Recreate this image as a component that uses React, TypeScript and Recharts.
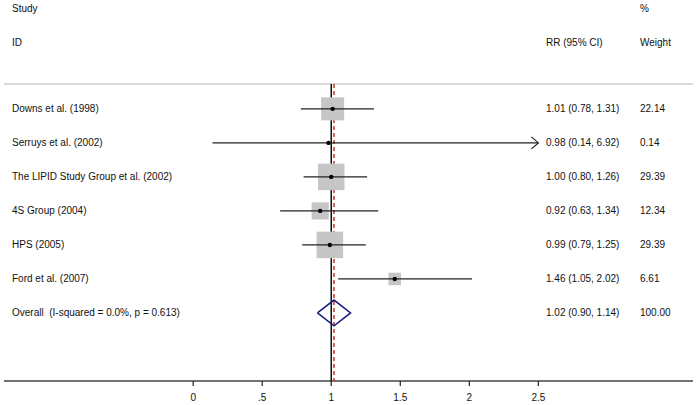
import React from "react";
import { ComposedChart, XAxis, YAxis, Scatter } from "recharts";

const studies = [
  "Downs et al. (1998)",
  "Serruys et al. (2002)",
  "The LIPID Study Group et al. (2002)",
  "4S Group (2004)",
  "HPS (2005)",
  "Ford et al. (2007)",
];
const rr = [1.01, 0.98, 1.0, 0.92, 0.99, 1.46];
const lower = [0.78, 0.14, 0.8, 0.63, 0.79, 1.05];
const upper = [1.31, 6.92, 1.26, 1.34, 1.25, 2.02];
const weights = [22.14, 0.14, 29.39, 12.34, 29.39, 6.61];

const overallLabel = "Overall\u00a0 (I-squared = 0.0%, p = 0.613)";
const overall = { rr: 1.02, lower: 0.9, upper: 1.14, weight: 100.0 };

const xTicks = [0, 0.5, 1, 1.5, 2, 2.5];
const xTickLabels = ["0", ".5", "1", "1.5", "2", "2.5"];

const X_MIN = -1.37;
const X_MAX = 3.62;
const X_CLIP = 2.5;
const Y_TOP = -3.2;
const Y_BOTTOM = 8;
const HEAD_STUDY = -2.94;
const HEAD_ID = -1.94;
const HEAD_LINE = -0.73;
const OVERALL_ROW = studies.length;

const FONT = "'Liberation Sans', Arial, sans-serif";

const fmt = (v: number) => v.toFixed(2);

const boxData = rr.map((v, i) => ({ x: v, y: i, w: weights[i] }));
const ciLines = rr.map((_, i) => [
  { x: lower[i], y: i },
  { x: Math.min(upper[i], X_CLIP), y: i },
]);
const arrows = rr
  .map((_, i) => ({ x: X_CLIP, y: i, clipped: upper[i] > X_CLIP }))
  .filter((d) => d.clipped);
const diamond = [
  { x: overall.lower, y: OVERALL_ROW },
  { x: overall.rr, y: OVERALL_ROW - 0.38 },
  { x: overall.upper, y: OVERALL_ROW },
  { x: overall.rr, y: OVERALL_ROW + 0.38 },
  { x: overall.lower, y: OVERALL_ROW },
];
const nullLine = [
  { x: 1, y: HEAD_LINE },
  { x: 1, y: Y_BOTTOM },
];
const pooledLine = [
  { x: overall.rr, y: HEAD_LINE },
  { x: overall.rr, y: Y_BOTTOM },
];
const headerLine = [
  { x: X_MIN, y: HEAD_LINE },
  { x: X_MAX, y: HEAD_LINE },
];

const rowTicks = [HEAD_STUDY, HEAD_ID, ...studies.map((_, i) => i), OVERALL_ROW];

const Empty = () => <g />;

const Box = (props: any) => {
  const { cx, cy, payload } = props;
  const s = 4.89 * Math.sqrt(payload.w);
  return <rect x={cx - s / 2} y={cy - s / 2} width={s} height={s} fill="#c6c6c6" />;
};

const Dot = (props: any) => <circle cx={props.cx} cy={props.cy} r={2.2} fill="#000" />;

const Arrow = (props: any) => {
  const { cx, cy } = props;
  return (
    <path
      d={`M${cx - 7},${cy - 6} L${cx},${cy} L${cx - 7},${cy + 6}`}
      fill="none"
      stroke="#222"
      strokeWidth={1.2}
    />
  );
};

const RowTick = (props: any) => {
  const { y, payload } = props;
  const v = payload.value;
  const t = { fontFamily: FONT, fontSize: 10, fill: "#111", dy: "0.35em" } as any;
  if (v === HEAD_STUDY) {
    return (
      <g>
        <text x={12} y={y} {...t}>Study</text>
        <text x={640} y={y} {...t}>%</text>
      </g>
    );
  }
  if (v === HEAD_ID) {
    return (
      <g>
        <text x={12} y={y} {...t}>ID</text>
        <text x={546} y={y} {...t}>RR (95% CI)</text>
        <text x={640} y={y} {...t}>Weight</text>
      </g>
    );
  }
  const isOverall = v === OVERALL_ROW;
  const name = isOverall ? overallLabel : studies[v];
  const est = isOverall ? overall.rr : rr[v];
  const lo = isOverall ? overall.lower : lower[v];
  const hi = isOverall ? overall.upper : upper[v];
  const w = isOverall ? overall.weight : weights[v];
  return (
    <g>
      <text x={12} y={y} {...t} style={{ whiteSpace: "pre" }}>{name}</text>
      <text x={546} y={y} {...t}>{`${fmt(est)} (${fmt(lo)}, ${fmt(hi)})`}</text>
      <text x={640} y={y} {...t}>{fmt(w)}</text>
    </g>
  );
};

export default function App() {
  return (
    <div style={{ position: "absolute", left: 0, top: 0, background: "#fff" }}>
      <ComposedChart
        width={697}
        height={405}
        margin={{ top: 0, right: 4, bottom: 0, left: 4 }}
      >
        <XAxis
          type="number"
          dataKey="x"
          domain={[X_MIN, X_MAX]}
          allowDataOverflow
          ticks={xTicks}
          interval={0}
          tickFormatter={(v: number) => xTickLabels[xTicks.indexOf(v)]}
          height={24}
          tickSize={5}
          tickMargin={8}
          axisLine={{ stroke: "#444", strokeWidth: 1.5 }}
          tickLine={{ stroke: "#222", strokeWidth: 1.2 }}
          tick={{ fontFamily: FONT, fontSize: 10, fill: "#111" }}
        />
        <YAxis
          type="number"
          dataKey="y"
          domain={[Y_TOP, Y_BOTTOM]}
          reversed
          allowDataOverflow
          mirror
          ticks={rowTicks}
          interval={0}
          axisLine={false}
          tickLine={false}
          tick={<RowTick />}
        />
        <Scatter
          data={headerLine}
          line={{ stroke: "#d9d9d9", strokeWidth: 2 }}
          shape={<Empty />}
          isAnimationActive={false}
        />
        <Scatter
          data={nullLine}
          line={{ stroke: "#111", strokeWidth: 1.5 }}
          shape={<Empty />}
          isAnimationActive={false}
        />
        <Scatter
          data={pooledLine}
          line={{ stroke: "#c0392b", strokeWidth: 1.5, strokeDasharray: "4 3" }}
          shape={<Empty />}
          isAnimationActive={false}
        />
        <Scatter data={boxData} shape={<Box />} isAnimationActive={false} />
        {ciLines.map((seg, i) => (
          <Scatter
            key={i}
            data={seg}
            line={{ stroke: "#222", strokeWidth: 1.2 }}
            shape={<Empty />}
            isAnimationActive={false}
          />
        ))}
        <Scatter data={arrows} shape={<Arrow />} isAnimationActive={false} />
        <Scatter data={boxData} shape={<Dot />} isAnimationActive={false} />
        <Scatter
          data={diamond}
          line={{ stroke: "#1a1a7e", strokeWidth: 1.5 }}
          shape={<Empty />}
          isAnimationActive={false}
        />
      </ComposedChart>
    </div>
  );
}
